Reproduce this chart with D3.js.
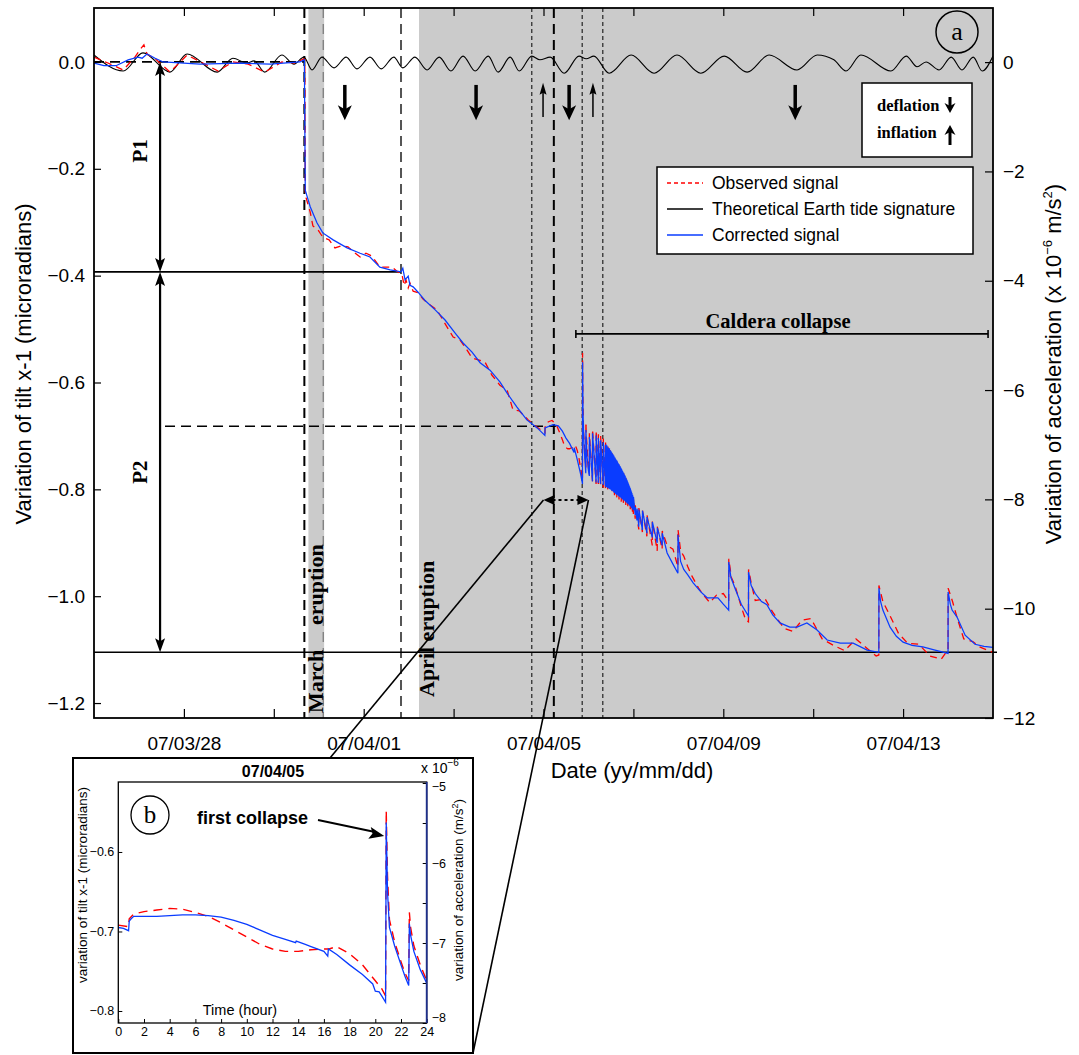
<!DOCTYPE html>
<html>
<head>
<meta charset="utf-8">
<script src="https://cdn.jsdelivr.net/npm/d3@7"></script>
<style>
  body { margin: 0; background: #fff; }
  svg { display: block; }
  text { font-family: "Liberation Sans", Arial, Helvetica, sans-serif; }
  .serif { font-family: "Liberation Serif", "Times New Roman", serif; }
</style>
</head>
<body>
<script>
// ---- data (days since 07/03/26 00:00, tilt in microradians) ----

// theoretical Earth tide, peaks and troughs
const tideDay = [0,0.65,1.09,1.69,2.07,2.74,3.09,3.40,3.56,3.80,4.18,4.45,4.67,4.85,5.07,5.34,5.61,5.85,6.14,6.39,
  6.67,6.87,7.14,7.41,7.68,7.94,8.21,8.48,8.77,8.99,9.26,9.46,9.74,9.92,10.15,10.46,10.79,10.95,11.12,11.46,
  11.95,12.46,12.97,13.50,14.02,14.53,15.02,15.64,16.09,16.46,16.73,17.06,17.73,18.07,18.31,18.51,18.80,19.07,19.31,19.56,
  19.76,20.00];
const tideTilt = [0.013,-0.017,0.017,-0.019,0.015,-0.019,0.007,-0.002,0.002,-0.019,0.013,-0.004,0.009,-0.015,0.009,-0.011,0.009,-0.013,0.009,-0.013,
  0.009,-0.011,0.009,-0.015,0.009,-0.017,0.011,-0.017,0.011,-0.019,0.009,-0.017,0.011,0.004,0.009,-0.021,0.011,0.006,0.011,-0.021,
  0.013,-0.021,0.013,-0.021,0.011,-0.019,0.013,-0.015,0.013,0.004,-0.017,0.013,-0.017,0.011,-0.009,0,-0.015,0.009,-0.015,0.009,
  -0.017,0.011];

// corrected signal (blue)
const correctedBefore = [[0,-0.002],[0.22,-0.007],[0.49,-0.007],[0.76,0.004],[0.98,0.009],[1.07,0.007],[1.18,0.015],[1.36,0.007],
  [1.54,0],[2.36,-0.004],[3.25,-0.002],[3.92,-0.004],[4.58,0],[4.68,0.004],[4.70,-0.240],[4.81,-0.271],[4.96,-0.301],[5.09,-0.320],
  [5.32,-0.333],[5.63,-0.348],[5.92,-0.358],[6.14,-0.365],[6.36,-0.384],[6.59,-0.389],[6.83,-0.393],[6.87,-0.386],[6.92,-0.408],
  [6.99,-0.401],[7.03,-0.418],[7.10,-0.421],[7.21,-0.431],[7.32,-0.442],[7.36,-0.446],[7.59,-0.464],[7.81,-0.483],[8.03,-0.507],
  [8.21,-0.526],[8.41,-0.543],[8.59,-0.563],[8.81,-0.577],[9.03,-0.599],[9.19,-0.620],[9.41,-0.646],[9.63,-0.670],[9.86,-0.685],
  [10.03,-0.699],[10.035,-0.685],[10.21,-0.679],[10.33,-0.681],[10.42,-0.691],[10.50,-0.704],[10.58,-0.714],[10.68,-0.731],
  [10.683,-0.722],[10.75,-0.744],[10.83,-0.773],[10.867,-0.790],[10.869,-0.562],[10.88,-0.660],[10.90,-0.715],[10.94,-0.770],
  [10.943,-0.689],[10.97,-0.740],[11.00,-0.765],[11.02,-0.775],[11.021,-0.702],[11.09,-0.785],[11.091,-0.695],[11.17,-0.787],
  [11.171,-0.699],[11.22,-0.788],[11.221,-0.704],[11.27,-0.790],[11.271,-0.708],[11.33,-0.792],[11.331,-0.712],[11.38,-0.795],
  [11.381,-0.717]];
// dense burst of collapse events after the first collapse
const swarmDay = [11.39,11.40,11.41,11.425,11.44,11.45,11.465,11.48,11.49,11.505,11.515,11.53,11.54,11.555,11.565,11.58,
  11.59,11.605,11.615,11.63,11.64,11.655,11.665,11.68,11.69,11.705,11.715,11.73,11.74,11.755,11.765,11.78,
  11.79,11.805,11.815,11.83,11.84,11.855,11.865,11.88,11.89,11.905,11.915,11.93,11.94,11.955,11.965,11.98];
const swarmTop = [-0.716,-0.719,-0.718,-0.721,-0.722,-0.724,-0.723,-0.727,-0.728,-0.729,-0.731,-0.733,-0.734,-0.736,-0.737,-0.740,
  -0.741,-0.743,-0.745,-0.746,-0.748,-0.750,-0.752,-0.753,-0.756,-0.757,-0.759,-0.761,-0.763,-0.765,-0.767,-0.769,
  -0.771,-0.773,-0.775,-0.778,-0.780,-0.782,-0.785,-0.787,-0.790,-0.793,-0.795,-0.798,-0.801,-0.804,-0.807,-0.810];
const swarmBase = [-0.795,-0.796,-0.796,-0.797,-0.798,-0.797,-0.799,-0.800,-0.800,-0.801,-0.802,-0.803,-0.803,-0.804,-0.806,-0.806,
  -0.807,-0.808,-0.809,-0.810,-0.810,-0.811,-0.812,-0.813,-0.814,-0.815,-0.815,-0.816,-0.817,-0.818,-0.819,-0.820,
  -0.821,-0.821,-0.822,-0.823,-0.824,-0.825,-0.826,-0.827,-0.828,-0.829,-0.830,-0.831,-0.832,-0.834,-0.835,-0.837];
const correctedAfter = [[12.00,-0.839],[12.002,-0.814],[12.04,-0.848],[12.042,-0.833],[12.08,-0.858],[12.082,-0.836],[12.12,-0.870],
  [12.122,-0.838],[12.20,-0.876],[12.202,-0.840],[12.30,-0.882],[12.302,-0.852],[12.42,-0.890],[12.422,-0.861],[12.53,-0.900],
  [12.532,-0.872],[12.64,-0.905],[12.642,-0.882],[12.75,-0.919],[12.88,-0.940],[12.99,-0.957],[12.992,-0.885],[13.05,-0.935],
  [13.12,-0.950],[13.21,-0.960],[13.33,-0.975],[13.50,-0.992],[13.64,-1.003],[13.88,-1.003],[14.00,-1.015],[14.12,-1.026],
  [14.122,-0.936],[14.17,-0.965],[14.26,-0.985],[14.40,-1.015],[14.56,-1.037],[14.562,-0.955],[14.62,-0.980],[14.71,-0.995],
  [14.85,-1.010],[14.97,-1.016],[15.10,-1.035],[15.26,-1.050],[15.48,-1.058],[15.64,-1.058],[15.86,-1.050],[16.08,-1.063],
  [16.31,-1.082],[16.60,-1.088],[16.89,-1.088],[17.20,-1.101],[17.46,-1.105],[17.462,-0.985],[17.50,-1.010],[17.55,-1.026],
  [17.71,-1.058],[17.85,-1.075],[18.00,-1.086],[18.20,-1.092],[18.44,-1.095],[18.71,-1.101],[19.00,-1.107],[19.002,-0.992],
  [19.05,-1.015],[19.09,-1.026],[19.20,-1.039],[19.38,-1.073],[19.60,-1.090],[19.80,-1.094],[20.00,-1.096]];

// observed signal (red dashed)
const observedBefore = [[0,0.009],[0.31,-0.002],[0.65,-0.015],[0.91,0.009],[1.05,0.026],[1.11,0.032],[1.18,0.015],[1.36,0.006],
  [1.69,-0.019],[2.07,0.013],[2.42,-0.002],[2.76,-0.017],[3.09,0],[3.43,-0.004],[3.80,-0.019],[4.18,0],[4.47,-0.002],[4.67,0.006],
  [4.69,0.004],[4.70,-0.249],[4.81,-0.281],[4.87,-0.307],[4.98,-0.314],[5.09,-0.328],[5.23,-0.333],[5.36,-0.348],[5.52,-0.344],
  [5.65,-0.346],[5.78,-0.356],[5.92,-0.365],[6.05,-0.358],[6.18,-0.363],[6.36,-0.384],[6.50,-0.384],[6.63,-0.384],[6.76,-0.393],
  [6.85,-0.397],[6.90,-0.419],[6.94,-0.408],[6.99,-0.423],[7.03,-0.414],[7.10,-0.429],[7.21,-0.432],[7.32,-0.444],[7.48,-0.455],
  [7.63,-0.464],[7.79,-0.487],[7.99,-0.515],[8.14,-0.520],[8.28,-0.537],[8.41,-0.554],[8.57,-0.558],[8.70,-0.562],[8.85,-0.586],
  [9.03,-0.605],[9.19,-0.614],[9.32,-0.651],[9.46,-0.653],[9.66,-0.670],[9.79,-0.680],[10.00,-0.692],[10.033,-0.694],
  [10.035,-0.684],[10.06,-0.676],[10.125,-0.673],[10.19,-0.671],[10.25,-0.676],[10.29,-0.680],[10.33,-0.688],[10.375,-0.697],
  [10.42,-0.707],[10.46,-0.717],[10.50,-0.722],[10.54,-0.724],[10.58,-0.724],[10.625,-0.722],[10.683,-0.722],[10.71,-0.718],
  [10.75,-0.727],[10.79,-0.742],[10.833,-0.765],[10.867,-0.782],[10.869,-0.545],[10.875,-0.620],[10.89,-0.690],[10.91,-0.720],
  [10.93,-0.745],[10.942,-0.760],[10.944,-0.675],[10.95,-0.695],[10.97,-0.720],[11.00,-0.760],[11.02,-0.772],[11.021,-0.695],
  [11.09,-0.785],[11.091,-0.688],[11.17,-0.790],[11.171,-0.690],[11.22,-0.790],[11.221,-0.697],[11.27,-0.795],[11.271,-0.700],
  [11.33,-0.797],[11.331,-0.705],[11.38,-0.800],[11.381,-0.712]];
const obsSwarmDay = [11.43,11.48,11.53,11.58,11.63,11.68,11.73,11.78,11.83,11.88,11.93,11.98];
const obsSwarmTop = [-0.720,-0.727,-0.733,-0.740,-0.748,-0.755,-0.762,-0.770,-0.779,-0.789,-0.800,-0.812];
const obsSwarmBase = [-0.800,-0.803,-0.807,-0.811,-0.815,-0.819,-0.823,-0.827,-0.831,-0.835,-0.838,-0.842];
const observedAfter = [[12.00,-0.846],[12.002,-0.818],[12.04,-0.855],[12.042,-0.830],[12.12,-0.875],[12.122,-0.835],[12.20,-0.880],
  [12.202,-0.840],[12.30,-0.888],[12.302,-0.848],[12.42,-0.905],[12.422,-0.860],[12.53,-0.915],[12.532,-0.870],[12.64,-0.912],
  [12.642,-0.878],[12.75,-0.905],[12.88,-0.912],[12.99,-0.945],[12.992,-0.875],[13.05,-0.915],[13.12,-0.925],[13.21,-0.945],
  [13.30,-0.962],[13.45,-0.985],[13.58,-1.000],[13.70,-1.012],[13.85,-0.998],[14.00,-0.995],[14.12,-1.010],[14.122,-0.930],
  [14.18,-0.965],[14.26,-0.980],[14.40,-1.020],[14.50,-1.045],[14.56,-1.048],[14.562,-0.950],[14.62,-0.975],[14.71,-1.008],
  [14.93,-1.005],[15.10,-1.030],[15.35,-1.060],[15.55,-1.066],[15.75,-1.045],[15.95,-1.042],[16.20,-1.080],[16.45,-1.092],
  [16.70,-1.102],[16.95,-1.080],[17.20,-1.098],[17.40,-1.112],[17.46,-1.110],[17.462,-0.980],[17.55,-1.010],[17.70,-1.035],
  [17.90,-1.070],[18.10,-1.088],[18.35,-1.090],[18.60,-1.112],[18.85,-1.118],[19.00,-1.100],[19.002,-0.985],[19.10,-1.010],
  [19.20,-1.040],[19.35,-1.080],[19.55,-1.085],[19.70,-1.095],[19.85,-1.100],[20.00,-1.105]];

// inset b: 07/04/05, hours of the day
const insetCorrected = [[0,-0.695],[0.4,-0.696],[0.8,-0.699],[0.85,-0.687],[1.0,-0.684],[1.2,-0.681],[2,-0.681],[3,-0.681],
  [4,-0.680],[5,-0.679],[6,-0.679],[7,-0.680],[8,-0.682],[9,-0.686],[10,-0.691],[11,-0.698],[12,-0.705],[13,-0.710],[13.8,-0.714],
  [13.85,-0.712],[14.5,-0.716],[15,-0.719],[16,-0.725],[16.3,-0.731],[16.35,-0.722],[17,-0.729],[18,-0.742],[19,-0.754],
  [19.8,-0.766],[20,-0.775],[20.3,-0.776],[20.5,-0.781],[20.8,-0.789],[20.85,-0.563],[20.95,-0.650],[21.1,-0.695],[21.5,-0.718],
  [22,-0.742],[22.3,-0.756],[22.6,-0.768],[22.65,-0.690],[22.75,-0.705],[23,-0.725],[23.5,-0.748],[24,-0.765]];
const insetObserved = [[0,-0.692],[0.8,-0.694],[0.85,-0.684],[1.2,-0.678],[2,-0.675],[3,-0.673],[4,-0.671],[5,-0.672],[6,-0.676],
  [7,-0.681],[8,-0.689],[9,-0.698],[10,-0.707],[11,-0.716],[12,-0.722],[13,-0.725],[14,-0.725],[15,-0.723],[16,-0.722],
  [16.4,-0.722],[17,-0.719],[18,-0.728],[19,-0.742],[20,-0.762],[20.5,-0.772],[20.8,-0.781],[20.85,-0.548],[20.95,-0.630],
  [21.1,-0.685],[21.5,-0.713],[22,-0.738],[22.3,-0.752],[22.6,-0.762],[22.65,-0.676],[22.75,-0.695],[23,-0.718],[23.5,-0.742],
  [24,-0.762]];

// ticks
const xTickDates = ["2007-03-28","2007-03-30","2007-04-01","2007-04-03","2007-04-05","2007-04-07","2007-04-09","2007-04-11","2007-04-13"];
const leftTicks = [0, -0.2, -0.4, -0.6, -0.8, -1.0, -1.2];
const rightTicks = [0, -2, -4, -6, -8, -10, -12];
const insetHourTicks = [0,2,4,6,8,10,12,14,16,18,20,22,24];
const insetLeftTicks = [-0.6, -0.7, -0.8];
const insetRightTicks = [-5, -5.5, -6, -6.5, -7, -7.5, -8];

// events and phases (days)
const marchBand = [4.77, 5.12];
const aprilBand = [7.23, 20];
const heavyDashDays = [4.68, 10.23];
const grayDashDays = [5.10, 6.83];
const dottedDays = [9.74, 10.86, 11.32];
const p1Level = -0.393, p2Level = -1.105, collapseLevel = -0.682;
const deflationDays = [5.58, 8.50, 10.57, 15.60];
const inflationDays = [9.99, 11.10];
const calderaSpan = [10.72, 19.89];
const zoomSpan = [10, 11];

// ---- drawing ----
const W = 1079, H = 1055;
const svg = d3.select("body").append("svg").attr("width", W).attr("height", H);

const t0 = Date.UTC(2007, 2, 26);
const toDate = d => new Date(t0 + d * 864e5);

const pL = 94, pR = 993, pT = 8, pB = 718;
const x = d3.scaleUtc().domain([toDate(0), toDate(20)]).range([pL, pR]);
const yL = d3.scaleLinear().domain([-1.228, 0.101]).range([pB, pT]);
const yR = d3.scaleLinear().domain([-12, 0.99]).range([pB, pT]);
const xd = d => x(toDate(d));

svg.append("clipPath").attr("id", "plotclip").append("rect")
  .attr("x", pL).attr("y", pT).attr("width", pR - pL).attr("height", pB - pT);

// shading
[marchBand, aprilBand].forEach(b => {
  svg.append("rect").attr("x", xd(b[0])).attr("y", pT).attr("width", xd(b[1]) - xd(b[0]))
    .attr("height", pB - pT).attr("fill", "#cbcbcb");
});

// vertical event lines
const vlines = svg.append("g");
heavyDashDays.forEach(d => vlines.append("line").attr("x1", xd(d)).attr("x2", xd(d)).attr("y1", pT).attr("y2", pB)
  .attr("stroke", "#000").attr("stroke-width", 2).attr("stroke-dasharray", "10,6"));
grayDashDays.forEach((d, i) => vlines.append("line").attr("x1", xd(d)).attr("x2", xd(d)).attr("y1", pT).attr("y2", pB)
  .attr("stroke", i === 0 ? "#777" : "#555").attr("stroke-width", i === 0 ? 1.2 : 2).attr("stroke-dasharray", "10,6"));
dottedDays.forEach(d => vlines.append("line").attr("x1", xd(d)).attr("x2", xd(d)).attr("y1", pT).attr("y2", pB)
  .attr("stroke", "#000").attr("stroke-width", 1).attr("stroke-dasharray", "4,3"));

// reference levels
svg.append("line").attr("x1", pL).attr("x2", xd(heavyDashDays[0])).attr("y1", yL(0)).attr("y2", yL(0))
  .attr("stroke", "#000").attr("stroke-width", 1.8).attr("stroke-dasharray", "10,6");
svg.append("line").attr("x1", pL).attr("x2", xd(grayDashDays[1])).attr("y1", yL(p1Level)).attr("y2", yL(p1Level))
  .attr("stroke", "#000").attr("stroke-width", 1.6);
svg.append("line").attr("x1", pL).attr("x2", pR + 4).attr("y1", yL(p2Level)).attr("y2", yL(p2Level))
  .attr("stroke", "#000").attr("stroke-width", 1.6);
svg.append("line").attr("x1", xd(1.58)).attr("x2", xd(heavyDashDays[1]) + 2).attr("y1", yL(collapseLevel)).attr("y2", yL(collapseLevel))
  .attr("stroke", "#000").attr("stroke-width", 1.5).attr("stroke-dasharray", "10,6");

// signals
const withSwarm = (before, days, tops, bases, after) =>
  before.concat(days.flatMap((d, i) => [[d, bases[i]], [d + 0.002, tops[i]]]), after);
const corrected = withSwarm(correctedBefore, swarmDay, swarmTop, swarmBase, correctedAfter);
const observed = withSwarm(observedBefore, obsSwarmDay, obsSwarmTop, obsSwarmBase, observedAfter);
const tide = tideDay.map((d, i) => [d, tideTilt[i]]);

const line = d3.line().x(d => xd(d[0])).y(d => yL(d[1]));
const plot = svg.append("g").attr("clip-path", "url(#plotclip)");
plot.append("path").attr("d", line.curve(d3.curveMonotoneX)(tide)).attr("fill", "none")
  .attr("stroke", "#000").attr("stroke-width", 1.1);
plot.append("path").attr("d", line.curve(d3.curveLinear)(observed)).attr("fill", "none")
  .attr("stroke", "#ff0000").attr("stroke-width", 1.3).attr("stroke-dasharray", "7,5");
plot.append("path").attr("d", line.curve(d3.curveLinear)(corrected)).attr("fill", "none")
  .attr("stroke", "#0a3cff").attr("stroke-width", 1.25);

// axes
const fontTick = 19;
const styleAxis = g => {
  g.select(".domain").remove();
  g.selectAll(".tick line").attr("stroke", "#000").attr("stroke-width", 1.2);
  g.selectAll("text").attr("font-family", "Liberation Sans, Arial, sans-serif").attr("font-size", fontTick).attr("fill", "#000");
};
const fmtDate = d3.utcFormat("%y/%m/%d");
const tickDates = xTickDates.map(s => new Date(s + "T00:00:00Z"));
svg.append("g").attr("transform", `translate(0,${pB})`)
  .call(d3.axisBottom(x).tickValues(tickDates)
    .tickFormat((d, i) => i % 2 === 0 ? fmtDate(d) : "").tickSizeInner(-9).tickSizeOuter(0).tickPadding(19))
  .call(styleAxis);
svg.append("g").attr("transform", `translate(0,${pT})`)
  .call(d3.axisTop(x).tickValues(tickDates).tickFormat("").tickSizeInner(-8).tickSizeOuter(0))
  .call(styleAxis);
svg.append("g").attr("transform", `translate(${pL},0)`)
  .call(d3.axisLeft(yL).tickValues(leftTicks).tickFormat(d3.format(".1f")).tickSizeInner(-7).tickSizeOuter(0).tickPadding(9))
  .call(styleAxis);
svg.append("g").attr("transform", `translate(${pR},0)`)
  .call(d3.axisRight(yR).tickValues(rightTicks).tickFormat(d3.format("d")).tickSizeInner(-8).tickSizeOuter(0).tickPadding(10))
  .call(styleAxis);

svg.append("rect").attr("x", pL).attr("y", pT).attr("width", pR - pL).attr("height", pB - pT)
  .attr("fill", "none").attr("stroke", "#000").attr("stroke-width", 1.8);

// axis titles
svg.append("text").attr("transform", `translate(31,364) rotate(-90)`).attr("text-anchor", "middle")
  .attr("font-size", 22).text("Variation of tilt x-1 (microradians)");
const rt = svg.append("text").attr("transform", `translate(1061,364) rotate(-90)`).attr("text-anchor", "middle")
  .attr("font-size", 22);
rt.append("tspan").text("Variation of acceleration (x 10");
rt.append("tspan").attr("dy", -9).attr("font-size", 13).text("−6");
rt.append("tspan").attr("dy", 9).text(" m/s");
rt.append("tspan").attr("dy", -9).attr("font-size", 13).text("2");
rt.append("tspan").attr("dy", 9).text(")");
svg.append("text").attr("x", 632).attr("y", 778).attr("text-anchor", "middle").attr("font-size", 22).text("Date (yy/mm/dd)");

// arrow helpers
function head(g, tx, ty, ang, len, half, notch = 0) {
  const c = Math.cos(ang), s = Math.sin(ang);
  const bx = tx - len * c, by = ty - len * s;
  const nx = tx - (len - notch) * c, ny = ty - (len - notch) * s;
  g.append("path")
    .attr("d", `M${tx},${ty}L${bx - s * half},${by + c * half}L${nx},${ny}L${bx + s * half},${by - c * half}Z`)
    .attr("fill", "#000");
}
const ann = svg.append("g");

// P1 / P2 double arrows
const px = xd(1.47);
[[0, p1Level, "P1"], [p1Level, p2Level, "P2"]].forEach(([a, b, lab]) => {
  ann.append("line").attr("x1", px).attr("x2", px).attr("y1", yL(a) + 10).attr("y2", yL(b) - 10)
    .attr("stroke", "#000").attr("stroke-width", 2.2);
  head(ann, px, yL(a), -Math.PI / 2, 14, 5, 3);
  head(ann, px, yL(b), Math.PI / 2, 14, 5, 3);
  ann.append("text").attr("class", "serif").attr("transform", `translate(147,${(yL(a) + yL(b)) / 2 + (lab === "P1" ? -16 : 10)}) rotate(-90)`)
    .attr("text-anchor", "middle").attr("font-weight", "bold").attr("font-size", 21).text(lab);
});

// deflation / inflation arrows
deflationDays.forEach(d => {
  const ax = xd(d);
  ann.append("line").attr("x1", ax).attr("x2", ax).attr("y1", yL(-0.043)).attr("y2", yL(-0.095))
    .attr("stroke", "#000").attr("stroke-width", 3.5);
  head(ann, ax, yL(-0.109), Math.PI / 2, 15, 7, 4);
});
inflationDays.forEach(d => {
  const ax = xd(d);
  ann.append("line").attr("x1", ax).attr("x2", ax).attr("y1", yL(-0.103)).attr("y2", yL(-0.055))
    .attr("stroke", "#000").attr("stroke-width", 1.5);
  head(ann, ax, yL(-0.039), -Math.PI / 2, 12, 3.5, 2);
});

// caldera collapse bracket
const cy = yL(-0.509);
ann.append("line").attr("x1", xd(calderaSpan[0])).attr("x2", xd(calderaSpan[1])).attr("y1", cy).attr("y2", cy)
  .attr("stroke", "#000").attr("stroke-width", 1.6);
calderaSpan.forEach(d => ann.append("line").attr("x1", xd(d)).attr("x2", xd(d)).attr("y1", cy - 4).attr("y2", cy + 4)
  .attr("stroke", "#000").attr("stroke-width", 1.6));
ann.append("text").attr("class", "serif").attr("x", 778).attr("y", cy - 6).attr("text-anchor", "middle")
  .attr("font-weight", "bold").attr("font-size", 20.5).text("Caldera collapse");

// eruption labels
ann.append("text").attr("class", "serif").attr("transform", `translate(323,713) rotate(-90)`)
  .attr("font-weight", "bold").attr("font-size", 22).text("March");
ann.append("text").attr("class", "serif").attr("transform", `translate(323,625) rotate(-90)`)
  .attr("font-weight", "bold").attr("font-size", 22).text("eruption");
ann.append("text").attr("class", "serif").attr("transform", `translate(434,697) rotate(-90)`)
  .attr("font-weight", "bold").attr("font-size", 22).text("April eruption");

// zoom span (dotted double arrow) and connectors to inset
const zy = yL(-0.82);
ann.append("line").attr("x1", xd(zoomSpan[0]) + 9).attr("x2", xd(zoomSpan[1]) - 9).attr("y1", zy).attr("y2", zy)
  .attr("stroke", "#000").attr("stroke-width", 2).attr("stroke-dasharray", "3,3");
head(ann, xd(zoomSpan[0]), zy, Math.PI, 11, 5);
head(ann, xd(zoomSpan[1]), zy, 0, 11, 5);
ann.append("line").attr("x1", xd(zoomSpan[0])).attr("y1", zy).attr("x2", 330).attr("y2", 758)
  .attr("stroke", "#000").attr("stroke-width", 1.6);
ann.append("line").attr("x1", xd(zoomSpan[1])).attr("y1", zy).attr("x2", 473).attr("y2", 1053)
  .attr("stroke", "#000").attr("stroke-width", 1.6);

// circle a
ann.append("circle").attr("cx", 957).attr("cy", 32).attr("r", 21).attr("fill", "none").attr("stroke", "#000").attr("stroke-width", 1.5);
ann.append("text").attr("class", "serif").attr("x", 957).attr("y", 40).attr("text-anchor", "middle").attr("font-size", 26).text("a");

// deflation / inflation key
ann.append("rect").attr("x", 862).attr("y", 83).attr("width", 110).attr("height", 74)
  .attr("fill", "#fff").attr("stroke", "#000").attr("stroke-width", 1.5);
ann.append("text").attr("class", "serif").attr("x", 877).attr("y", 111).attr("font-weight", "bold").attr("font-size", 16.5).text("deflation");
ann.append("text").attr("class", "serif").attr("x", 877).attr("y", 138).attr("font-weight", "bold").attr("font-size", 16.5).text("inflation");
ann.append("line").attr("x1", 950).attr("x2", 950).attr("y1", 97).attr("y2", 106).attr("stroke", "#000").attr("stroke-width", 3);
head(ann, 950, 113, Math.PI / 2, 10, 5.5, 3);
ann.append("line").attr("x1", 950).attr("x2", 950).attr("y1", 145).attr("y2", 132).attr("stroke", "#000").attr("stroke-width", 3);
head(ann, 950, 125, -Math.PI / 2, 10, 5.5, 3);

// legend
const leg = ann.append("g");
leg.append("rect").attr("x", 657).attr("y", 167).attr("width", 316).attr("height", 87)
  .attr("fill", "#fff").attr("stroke", "#000").attr("stroke-width", 1.5);
[["Observed signal", "#ff0000", "4,3"], ["Theoretical Earth tide signature", "#000", null], ["Corrected signal", "#0a3cff", null]]
  .forEach(([lab, col, dash], i) => {
    const ly = 183 + i * 26;
    const l = leg.append("line").attr("x1", 667).attr("x2", 703).attr("y1", ly).attr("y2", ly)
      .attr("stroke", col).attr("stroke-width", 1.3);
    if (dash) l.attr("stroke-dasharray", dash);
    leg.append("text").attr("x", 712).attr("y", ly).attr("dy", "0.36em").attr("font-size", 17.5).text(lab);
  });

// ---- inset b ----
const ins = svg.append("g");
ins.append("rect").attr("x", 73).attr("y", 758).attr("width", 400).attr("height", 295)
  .attr("fill", "#fff").attr("stroke", "#000").attr("stroke-width", 2);
const il = 118.3, ir = 426.7, it = 782, ib = 1023;
const xi = d3.scaleLinear().domain([0, 24]).range([il, ir]);
const yiL = d3.scaleLinear().domain([-0.8151, -0.5120]).range([ib, it]);
const yiR = d3.scaleLinear().domain([-8, -5]).range([ib, it + 1]);

svg.append("clipPath").attr("id", "insetclip").append("rect")
  .attr("x", il).attr("y", it).attr("width", ir - il).attr("height", ib - it);
const iline = d3.line().x(d => xi(d[0])).y(d => yiL(d[1]));
const ip = ins.append("g").attr("clip-path", "url(#insetclip)");
ip.append("path").attr("d", iline(insetObserved)).attr("fill", "none").attr("stroke", "#ff0000")
  .attr("stroke-width", 1.4).attr("stroke-dasharray", "9,6");
ip.append("path").attr("d", iline(insetCorrected)).attr("fill", "none").attr("stroke", "#0a3cff").attr("stroke-width", 1.3);

const styleInset = g => {
  g.select(".domain").remove();
  g.selectAll(".tick line").attr("stroke", "#000");
  g.selectAll("text").attr("font-family", "Liberation Sans, Arial, sans-serif").attr("font-size", 12.5).attr("fill", "#000");
};
ins.append("g").attr("transform", `translate(0,${ib})`)
  .call(d3.axisBottom(xi).tickValues(insetHourTicks).tickSizeInner(-4).tickSizeOuter(0).tickPadding(4)).call(styleInset);
ins.append("g").attr("transform", `translate(${il},0)`)
  .call(d3.axisLeft(yiL).tickValues(insetLeftTicks).tickFormat(d3.format(".1f")).tickSizeInner(-4).tickSizeOuter(0).tickPadding(4))
  .call(styleInset);
ins.append("g").attr("transform", `translate(${ir},0)`)
  .call(d3.axisRight(yiR).tickValues(insetRightTicks).tickFormat(d => Number.isInteger(d) ? d3.format("d")(d) : "")
    .tickSizeInner(-4).tickSizeOuter(0).tickPadding(5))
  .call(styleInset)
  .call(g => g.selectAll(".tick text").attr("dy", d => d === -8 ? "-0.1em" : d === -5 ? "0.6em" : "0.32em"));
ins.append("rect").attr("x", il).attr("y", it).attr("width", ir - il).attr("height", ib - it)
  .attr("fill", "none").attr("stroke", "#000").attr("stroke-width", 1.3);
ins.append("line").attr("x1", ir).attr("x2", ir).attr("y1", it).attr("y2", ib).attr("stroke", "#1e2f8c").attr("stroke-width", 1.8);

ins.append("text").attr("x", 273).attr("y", 777).attr("text-anchor", "middle").attr("font-weight", "bold").attr("font-size", 16).text("07/04/05");
const xe = ins.append("text").attr("x", 421).attr("y", 773).attr("font-size", 14);
xe.append("tspan").text("x 10");
xe.append("tspan").attr("dy", -7).attr("font-size", 10).text("−6");
ins.append("text").attr("x", 240).attr("y", 1015).attr("text-anchor", "middle").attr("font-size", 14.5).text("Time (hour)");
ins.append("text").attr("transform", "translate(87,885) rotate(-90)").attr("text-anchor", "middle").attr("font-size", 13.5)
  .text("variation of tilt x-1 (microradians)");
const ir2 = ins.append("text").attr("transform", "translate(463,890) rotate(-90)").attr("text-anchor", "middle").attr("font-size", 13.5);
ir2.append("tspan").text("variation of acceleration (m/s");
ir2.append("tspan").attr("dy", -5).attr("font-size", 9).text("2");
ir2.append("tspan").attr("dy", 5).text(")");

ins.append("circle").attr("cx", 150).attr("cy", 815).attr("r", 19).attr("fill", "none").attr("stroke", "#000").attr("stroke-width", 1.3);
ins.append("text").attr("class", "serif").attr("x", 150).attr("y", 823).attr("text-anchor", "middle").attr("font-size", 25).text("b");
ins.append("text").attr("x", 197).attr("y", 824).attr("font-weight", "bold").attr("font-size", 18).text("first collapse");
ins.append("line").attr("x1", 318).attr("y1", 820).attr("x2", 375).attr("y2", 832).attr("stroke", "#000").attr("stroke-width", 1.8);
head(ins, xi(20.85) - 2, yiL(-0.58), Math.atan2(12, 57), 15, 6, 3);
</script>
</body>
</html>
